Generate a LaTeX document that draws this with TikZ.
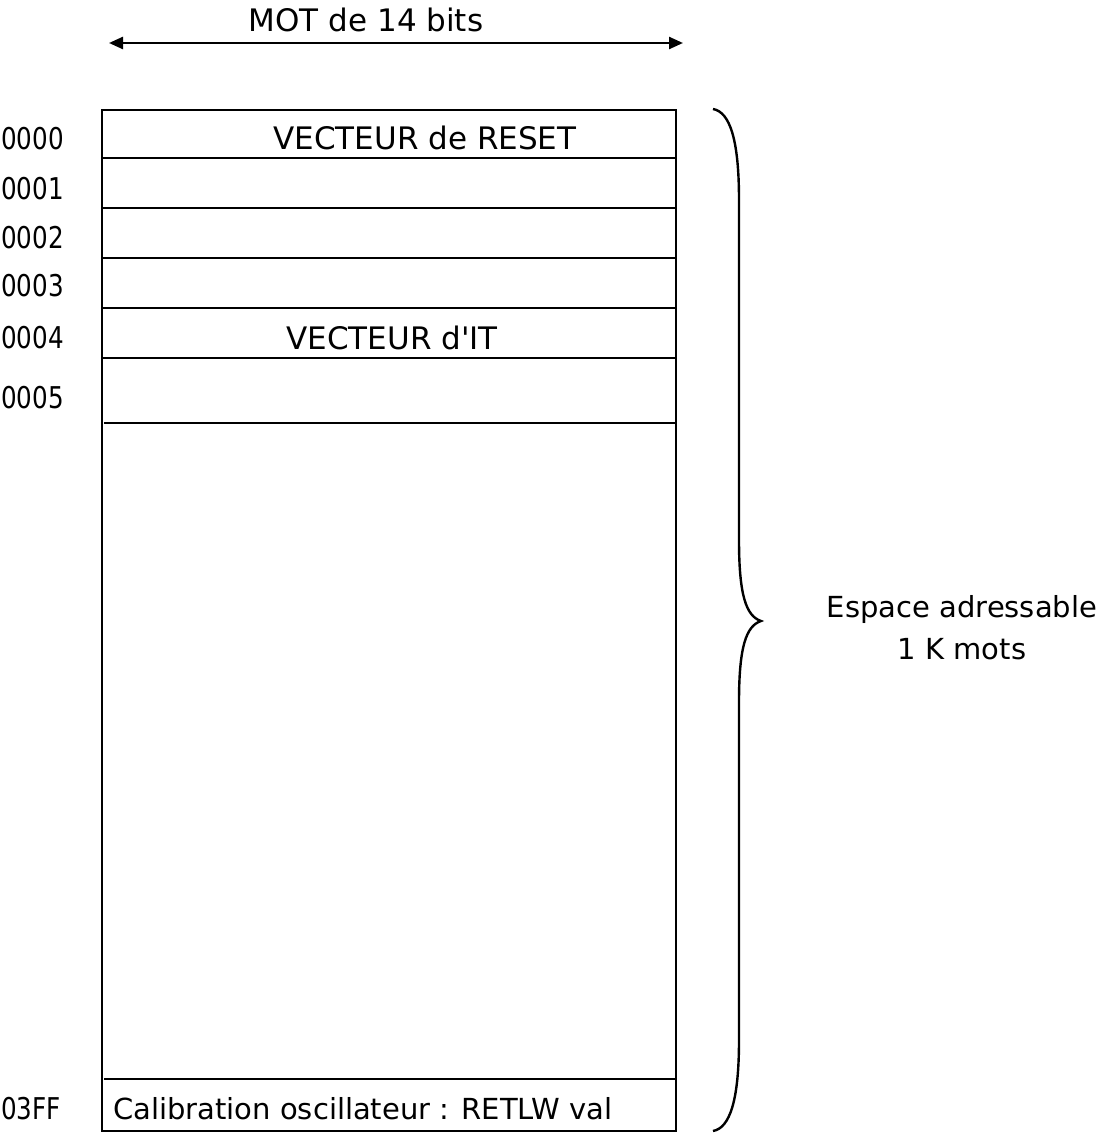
\documentclass[tikz,border=0pt]{standalone}
\usepackage{fontspec}
\setmainfont{DejaVu Sans}
\newfontfamily\labfont[FakeStretch=0.82]{DejaVu Sans}
\usetikzlibrary{arrows.meta}
\begin{document}
\begin{tikzpicture}[x=1pt,y=-1pt,line width=2.4pt,
  lbl/.style={font=\labfont\fontsize{30}{34}\selectfont,inner sep=0pt,anchor=base west},
  txt/.style={font=\fontsize{31}{36}\selectfont,inner sep=0pt,anchor=base},
  smalltxt/.style={font=\fontsize{29}{34}\selectfont,inner sep=0pt,anchor=base}]
\useasboundingbox (0,0) rectangle (1101,1135);
% memory block
\draw (102,110) rectangle (676,1131);
\foreach \y in {158,208,258,308,358}{\draw (102,\y) -- (676,\y);}
\draw (104,423) -- (676,423);
\draw (104,1079) -- (676,1079);
% width arrow
\node[txt] (mot) at (366,31) {MOT de 14 bits};
\coordinate (aL) at (109,43);
\coordinate (aR) at (683,43);
\draw[{Triangle[length=14pt,width=12pt]}-{Triangle[length=14pt,width=12pt]}] (aL) -- (aR);
% addresses
\node[lbl] (a0) at (0,149) {0000};
\node[lbl] (a1) at (0,199) {0001};
\node[lbl] (a2) at (0,248) {0002};
\node[lbl] (a3) at (0,296) {0003};
\node[lbl] (a4) at (0,348) {0004};
\node[lbl] (a5) at (0,408) {0005};
\node[lbl] (aF) at (0,1119) {03FF};
% contents
\node[txt] (reset) at (425,149) {VECTEUR de RESET};
\node[txt] (it) at (392,349) {VECTEUR d\textquotesingle IT};
\node[smalltxt,anchor=base west] (calib) at (112,1119) {Calibration oscillateur : RETLW val};
% brace
\draw (713,109) .. controls (730,112) and (739,140) .. (739,200)
  -- (739,540) .. controls (739,595) and (746,616) .. (761,621)
  .. controls (746,626) and (739,647) .. (739,702)
  -- (739,1040) .. controls (739,1100) and (730,1128) .. (713,1131);
\node[smalltxt] (esp) at (962,617) {Espace adressable};
\node[smalltxt] (kmots) at (962,659) {1 K mots};
\end{tikzpicture}
\end{document}
